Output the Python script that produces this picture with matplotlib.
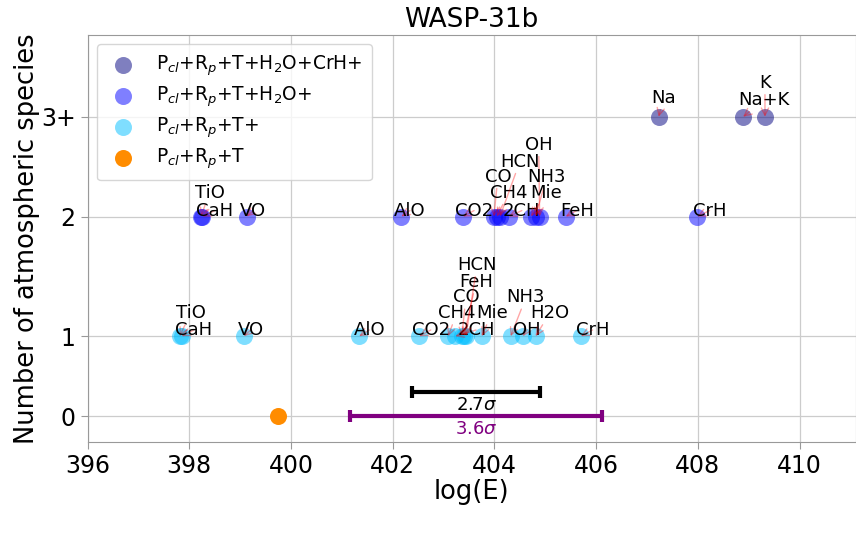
import matplotlib
matplotlib.use("Agg")
import matplotlib.pyplot as plt

# ---- data -------------------------------------------------------------
# vertical level used for each "number of species" group
level_ticks = [0, 0.8, 2, 3]
level_labels = ["0", "1", "2", "3+"]

# group 3+ : Pcl+Rp+T+H2O+CrH+
names_3 = ["Na", "Na+K", "K"]
logE_3 = [407.23, 408.89, 409.32]

# group 2 : Pcl+Rp+T+H2O+
names_2 = ["TiO", "CaH", "VO", "AlO", "CO2", "CO", "CH4", "HCN", "2CH",
           "OH", "NH3", "Mie", "FeH", "CrH"]
logE_2 = [398.23, 398.26, 399.13, 402.17, 403.38, 403.99, 404.05, 404.11,
          404.28, 404.89, 404.81, 404.72, 405.40, 407.99]

# group 1 : Pcl+Rp+T+
names_1 = ["TiO", "CaH", "VO", "AlO", "CO2", "CH4", "2CH", "CO", "FeH",
           "HCN", "Mie", "NH3", "OH", "H2O", "CrH"]
logE_1 = [397.81, 397.85, 399.07, 401.34, 402.52, 403.09, 403.23, 403.36,
          403.40, 403.44, 403.75, 404.32, 404.56, 404.81, 405.70]

# group 0 : Pcl+Rp+T
logE_0 = [399.75]

# significance bars
sig_center = 403.64
sig_halfwidth = [1.26, 2.47]
sig_labels = [r"2.7$\sigma$", r"3.6$\sigma$"]

# ---- label layout (text anchor positions) -----------------------------
lab_3 = [(407.32, 3.19), (409.30, 3.17), (409.32, 3.34)]
lab_2 = [(398.40, 2.24), (398.50, 2.06), (399.26, 2.06), (402.34, 2.06),
         (403.60, 2.06), (404.07, 2.40), (404.28, 2.24), (404.50, 2.55),
         (404.54, 2.06), (404.87, 2.72), (405.03, 2.40), (405.01, 2.24),
         (405.62, 2.06), (408.23, 2.06)]
lab_1 = [(398.03, 1.033), (398.09, 0.863), (399.21, 0.863), (401.54, 0.863),
         (402.75, 0.863), (403.26, 1.033), (403.64, 0.863), (403.44, 1.19),
         (403.64, 1.344), (403.66, 1.515), (403.95, 1.033), (404.62, 1.19),
         (404.64, 0.863), (405.09, 1.033), (405.93, 0.863)]

legend_labels = [r"P$_{cl}$+R$_{p}$+T+H$_{2}$O+CrH+",
                 r"P$_{cl}$+R$_{p}$+T+H$_{2}$O+",
                 r"P$_{cl}$+R$_{p}$+T+",
                 r"P$_{cl}$+R$_{p}$+T"]

# ---- figure -----------------------------------------------------------
fig = plt.figure(figsize=(8.56, 5.38), dpi=100)
ax = fig.add_axes([87.5 / 856, 96 / 538, 768 / 856, 407 / 538])

msize = 150
ann_fs = 13
groups = [
    (logE_3, level_ticks[3], "navy", 0.5, names_3, lab_3, legend_labels[0]),
    (logE_2, level_ticks[2], "blue", 0.5, names_2, lab_2, legend_labels[1]),
    (logE_1, level_ticks[1], "deepskyblue", 0.5, names_1, lab_1, legend_labels[2]),
    (logE_0, level_ticks[0], "darkorange", 1.0, [], [], legend_labels[3]),
]

for xs, yv, col, alpha, names, labs, leg in groups:
    ax.scatter(xs, [yv] * len(xs), s=msize, color=col, alpha=alpha,
               linewidths=0, label=leg, zorder=2)
    for name, x, (tx, ty) in zip(names, xs, labs):
        ax.annotate(name, xy=(x, yv), xytext=(tx, ty), ha="center",
                    va="center", fontsize=ann_fs, color="black", zorder=4,
                    arrowprops=dict(arrowstyle="->", color="red", alpha=0.35,
                                    lw=1, shrinkA=0, shrinkB=0))

# significance bars
for hw, yv, col, lab, ly in zip(sig_halfwidth, [0.24, 0.0], ["black", "purple"],
                                sig_labels, [0.11, -0.125]):
    ax.errorbar(sig_center, yv, xerr=hw, fmt="none", ecolor=col,
                elinewidth=3, capsize=4, capthick=3, zorder=3)
    ax.text(sig_center, ly, lab, color=col, fontsize=ann_fs, ha="center",
            va="center")

ax.set_xlim(396, 411.1)
ax.set_ylim(-0.26, 3.82)
ax.set_yticks(level_ticks)
ax.set_yticklabels(level_labels)
ax.set_xticks(range(396, 411, 2))

ax.grid(True, color="#cccccc", lw=0.9)
ax.set_axisbelow(True)
for sp in ax.spines.values():
    sp.set_color("#999999")
ax.tick_params(labelsize=17, color="#999999", length=5)

ax.set_xlabel("log(E)", fontsize=18.5, labelpad=1)
ax.set_ylabel("Number of atmospheric species", fontsize=18.5, labelpad=1)
ax.set_title("WASP-31b", fontsize=19)

ax.legend(loc="upper left", fontsize=13.4, labelspacing=0.35,
          borderpad=0.5, handlelength=1.8, handletextpad=0.9,
          markerscale=1.0, framealpha=0.8, edgecolor="#cccccc")

fig.savefig("out.png", dpi=100)
